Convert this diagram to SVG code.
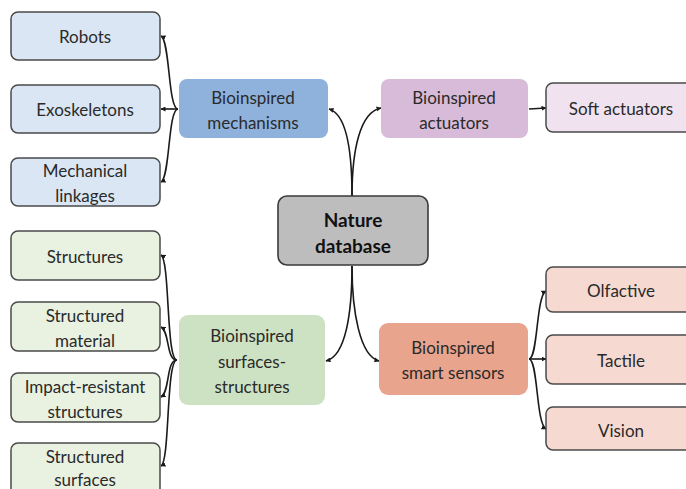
<svg xmlns="http://www.w3.org/2000/svg" width="686" height="489" viewBox="0 0 686 489">
<defs>
<style>
text{font-family:Lato,"Open Sans","Liberation Sans",sans-serif;font-size:17px;fill:#2a2a2a;text-anchor:middle;dominant-baseline:central}
.bold{font-weight:bold;font-size:19px;fill:#111}
.child{stroke:#4a4a4a;stroke-width:1.5}
.c{fill:none;stroke:#1a1a1a;stroke-width:1.6;marker-end:url(#ah)}
</style>
<marker id="ah" viewBox="0 0 10 10" refX="9" refY="5" markerWidth="5" markerHeight="5" orient="auto" markerUnits="userSpaceOnUse">
<path d="M0,0 L10,5 L0,10 z" fill="#1a1a1a"/>
</marker>
</defs>
<rect width="686" height="489" fill="#ffffff"/>

<g id="connectors">
<path class="c" d="M352,196 C352,150 346,114 329,109"/>
<path class="c" d="M352,196 C352,150 360,112 381,108"/>
<path class="c" d="M352,266 C352,312 346,356 326,361"/>
<path class="c" d="M352,266 C352,312 360,356 379,361"/>
<path class="c" d="M529,109 L546,108"/>
<path class="c" d="M178,109 C168,109 170,40 161,36"/>
<path class="c" d="M178,109 L161,109"/>
<path class="c" d="M178,109 C168,109 170,178 161,182"/>
<path class="c" d="M177,360 C166,360 170,260 161,255"/>
<path class="c" d="M177,360 C166,360 170,332 161,327"/>
<path class="c" d="M177,360 C166,360 170,392 161,397"/>
<path class="c" d="M177,360 C166,360 170,462 161,466"/>
<path class="c" d="M529,359 C538,359 536,296 546,291"/>
<path class="c" d="M529,359 L546,359"/>
<path class="c" d="M529,359 C538,359 536,424 546,429"/>
</g>

<g id="robots"><rect class="child" x="11" y="12" width="149" height="48" rx="7" fill="#dbe6f4"/><text x="85" y="36">Robots</text></g>
<g id="exoskeletons"><rect class="child" x="11" y="85" width="149" height="48" rx="7" fill="#dbe6f4"/><text x="85" y="109">Exoskeletons</text></g>
<g id="mechanical-linkages"><rect class="child" x="11" y="158" width="149" height="48" rx="7" fill="#dbe6f4"/><text x="85" y="170">Mechanical</text><text x="85" y="195">linkages</text></g>
<g id="bioinspired-mechanisms"><rect x="179" y="79" width="149" height="59" rx="8" fill="#8fb2dd"/><text x="253" y="97">Bioinspired</text><text x="253" y="122">mechanisms</text></g>

<g id="nature-database"><rect x="278" y="196" width="150" height="69" rx="9" fill="#bdbdbd" stroke="#3a3a3a" stroke-width="1.6"/><text class="bold" x="353" y="219">Nature</text><text class="bold" x="353" y="245">database</text></g>

<g id="bioinspired-actuators"><rect x="381" y="79" width="147" height="59" rx="8" fill="#d8bbd9"/><text x="454" y="97">Bioinspired</text><text x="454" y="122">actuators</text></g>
<g id="soft-actuators"><rect class="child" x="546" y="83" width="150" height="49" rx="7" fill="#f1e2ef"/><text x="621" y="108">Soft actuators</text></g>

<g id="structures"><rect class="child" x="11" y="231" width="149" height="49" rx="7" fill="#e9f1e0"/><text x="85" y="256">Structures</text></g>
<g id="structured-material"><rect class="child" x="11" y="302" width="149" height="49" rx="7" fill="#e9f1e0"/><text x="85" y="315">Structured</text><text x="85" y="340">material</text></g>
<g id="impact-resistant-structures"><rect class="child" x="11" y="373" width="149" height="49" rx="7" fill="#e9f1e0"/><text x="85" y="386">Impact-resistant</text><text x="85" y="411">structures</text></g>
<g id="structured-surfaces"><rect class="child" x="11" y="443" width="149" height="55" rx="7" fill="#e9f1e0"/><text x="85" y="456">Structured</text><text x="85" y="479">surfaces</text></g>
<g id="bioinspired-surfaces-structures"><rect x="179" y="315" width="146" height="90" rx="9" fill="#cde2c2"/><text x="252" y="335">Bioinspired</text><text x="252" y="361">surfaces-</text><text x="252" y="386">structures</text></g>

<g id="bioinspired-smart-sensors"><rect x="379" y="323" width="149" height="72" rx="9" fill="#e8a48d"/><text x="453" y="347">Bioinspired</text><text x="453" y="372">smart sensors</text></g>
<g id="olfactive"><rect class="child" x="546" y="267" width="150" height="45" rx="7" fill="#f6dad1"/><text x="621" y="290">Olfactive</text></g>
<g id="tactile"><rect class="child" x="546" y="335" width="150" height="49" rx="7" fill="#f6dad1"/><text x="621" y="360">Tactile</text></g>
<g id="vision"><rect class="child" x="546" y="407" width="150" height="43" rx="7" fill="#f6dad1"/><text x="621" y="430">Vision</text></g>
</svg>
